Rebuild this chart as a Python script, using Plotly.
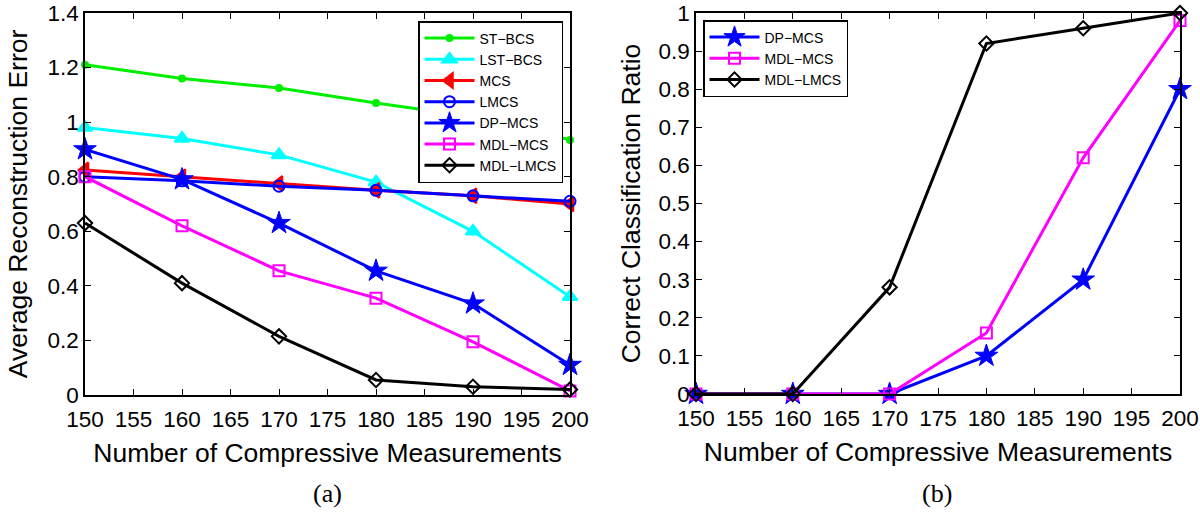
import plotly.graph_objects as go

x = [150, 160, 170, 180, 190, 200]

# Panel (a): Average Reconstruction Error
st_bcs = [1.21, 1.16, 1.125, 1.07, 1.02, 0.935]
lst_bcs = [0.98, 0.94, 0.88, 0.78, 0.60, 0.36]
mcs = [0.825, 0.80, 0.775, 0.75, 0.73, 0.70]
lmcs = [0.80, 0.785, 0.765, 0.75, 0.73, 0.71]
dp_mcs_a = [0.90, 0.79, 0.63, 0.455, 0.335, 0.11]
mdl_mcs_a = [0.80, 0.62, 0.455, 0.355, 0.195, 0.015]
mdl_lmcs_a = [0.63, 0.41, 0.215, 0.055, 0.03, 0.02]

# Panel (b): Correct Classification Ratio
dp_mcs_b = [0, 0, 0, 0.10, 0.30, 0.80]
mdl_mcs_b = [0, 0, 0, 0.16, 0.62, 0.98]
mdl_lmcs_b = [0, 0, 0.28, 0.92, 0.96, 1.0]

xticks = [150, 155, 160, 165, 170, 175, 180, 185, 190, 195, 200]
yticks_a = [0, 0.2, 0.4, 0.6, 0.8, 1, 1.2, 1.4]
yticks_b = [0, 0.1, 0.2, 0.3, 0.4, 0.5, 0.6, 0.7, 0.8, 0.9, 1]

GREEN = "#00ee00"
CYAN = "#00ffff"
RED = "#ff0000"
BLUE = "#0000ff"
MAG = "#ff00ff"
BLACK = "#000000"

W, H = 1200, 516


def dx(px):
    return px / W


def dy(py):
    return 1 - py / H


fig = go.Figure()


def add(xs, ys, name, color, symbol, size, xa, ya, legend, lw=3, mlw=2):
    fig.add_trace(go.Scatter(
        x=xs, y=ys, name=name, mode="lines+markers",
        line=dict(color=color, width=lw),
        marker=dict(symbol=symbol, size=size, color=color,
                    line=dict(color=color, width=mlw)),
        xaxis=xa, yaxis=ya, legend=legend, cliponaxis=False,
    ))


add(x, st_bcs, "ST\u2212BCS", GREEN, "circle", 6, "x", "y", "legend")
add(x, lst_bcs, "LST\u2212BCS", CYAN, "triangle-up", 13, "x", "y", "legend")
add(x, mcs, "MCS", RED, "triangle-left", 13, "x", "y", "legend")
add(x, lmcs, "LMCS", BLUE, "circle-open", 11, "x", "y", "legend")
add(x, dp_mcs_a, "DP\u2212MCS", BLUE, "star", 17, "x", "y", "legend", mlw=1)
add(x, mdl_mcs_a, "MDL\u2212MCS", MAG, "square-open", 11, "x", "y", "legend")
add(x, mdl_lmcs_a, "MDL\u2212LMCS", BLACK, "diamond-open", 11, "x", "y", "legend")

add(x, dp_mcs_b, "DP\u2212MCS", BLUE, "star", 17, "x2", "y2", "legend2", mlw=1)
add(x, mdl_mcs_b, "MDL\u2212MCS", MAG, "square-open", 11, "x2", "y2", "legend2")
add(x, mdl_lmcs_b, "MDL\u2212LMCS", BLACK, "diamond-open", 11, "x2", "y2", "legend2")

FONT = "Liberation Sans"
axis_common = dict(
    showgrid=False, zeroline=False, showline=True, linecolor="black", linewidth=1.5,
    mirror="ticks", ticks="inside", ticklen=6, tickcolor="black", tickwidth=1,
    tickfont=dict(family=FONT, size=22.5, color="black"), automargin=False,
    ticklabeloverflow="allow",
)

fig.update_layout(
    width=W, height=H,
    margin=dict(l=0, r=0, t=0, b=0, autoexpand=False),
    paper_bgcolor="white", plot_bgcolor="white",
    font=dict(family=FONT, color="black"),
    xaxis=dict(domain=[dx(85), dx(570)], range=[150, 200], tickvals=xticks,
               title=dict(text="Number of Compressive Measurements", font=dict(size=26.5), standoff=13),
               anchor="y", ticklabelstandoff=3, **axis_common),
    yaxis=dict(domain=[dy(395), dy(13)], range=[0, 1.4], tickvals=yticks_a,
               ticktext=["0", "0.2", "0.4", "0.6", "0.8", "1", "1.2", "1.4"],
               title=dict(text="Average Reconstruction Error", font=dict(size=26.5), standoff=12),
               anchor="x", **axis_common),
    xaxis2=dict(domain=[dx(696), dx(1180)], range=[150, 200], tickvals=xticks,
                title=dict(text="Number of Compressive Measurements", font=dict(size=26.5), standoff=13),
                anchor="y2", ticklabelstandoff=3, **axis_common),
    yaxis2=dict(domain=[dy(394), dy(13)], range=[0, 1], tickvals=yticks_b,
                ticktext=["0", "0.1", "0.2", "0.3", "0.4", "0.5", "0.6", "0.7", "0.8", "0.9", "1"],
                title=dict(text="Correct Classification Ratio", font=dict(size=26.5), standoff=10),
                anchor="x2", **axis_common),
    legend=dict(x=dx(418), y=dy(21), xanchor="left", yanchor="top",
                bgcolor="white", bordercolor="black", borderwidth=1.5,
                font=dict(family=FONT, size=14, color="black"),
                tracegroupgap=0, itemwidth=50),
    legend2=dict(x=dx(703), y=dy(20), xanchor="left", yanchor="top",
                 bgcolor="white", bordercolor="black", borderwidth=1.5,
                 font=dict(family=FONT, size=14, color="black"),
                 tracegroupgap=0, itemwidth=50),
    annotations=[
        dict(text="(a)", x=dx(327), y=dy(493), xref="paper", yref="paper", showarrow=False,
             xanchor="center", yanchor="middle",
             font=dict(family="Liberation Serif", size=26, color="black")),
        dict(text="(b)", x=dx(937), y=dy(493), xref="paper", yref="paper", showarrow=False,
             xanchor="center", yanchor="middle",
             font=dict(family="Liberation Serif", size=26, color="black")),
    ],
    showlegend=True,
)

fig.write_html("out.html", config={"displayModeBar": False},
               post_script="document.body.style.margin='0';")
